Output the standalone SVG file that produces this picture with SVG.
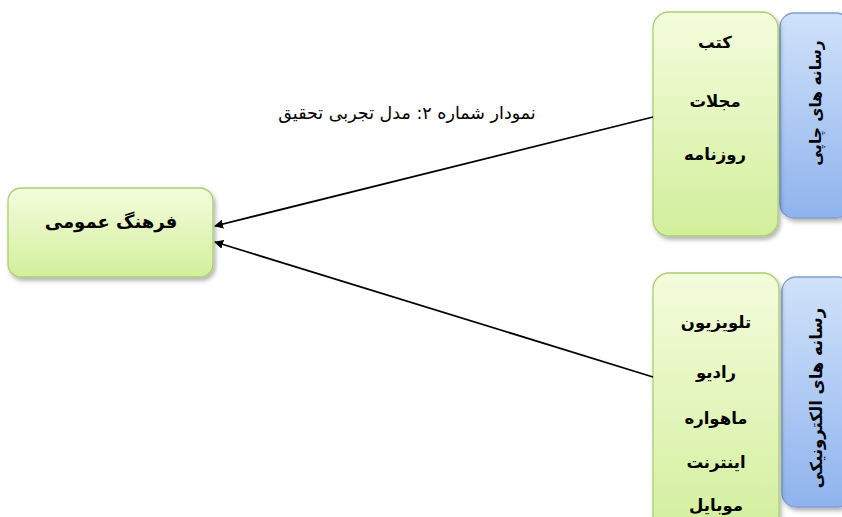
<svg xmlns="http://www.w3.org/2000/svg" width="842" height="517" viewBox="0 0 842 517">
<defs>
<linearGradient id="gGreen" x1="0" y1="0" x2="0" y2="1">
<stop offset="0" stop-color="#f4fcdc"/>
<stop offset="1" stop-color="#d2ef9c"/>
</linearGradient>
<linearGradient id="gBlue" x1="0" y1="0" x2="0" y2="1">
<stop offset="0" stop-color="#d0e2fa"/>
<stop offset="1" stop-color="#8fb3ee"/>
</linearGradient>
<filter id="sh" x="-20%" y="-20%" width="140%" height="140%">
<feDropShadow dx="2" dy="3" stdDeviation="2" flood-color="#000" flood-opacity="0.3"/>
</filter>
<marker id="arr" viewBox="0 0 10 10" refX="9" refY="5" markerWidth="9" markerHeight="9" markerUnits="userSpaceOnUse" orient="auto">
<path d="M0,0 L10,5 L0,10 Z" fill="#000"/>
</marker>
</defs>
<style>
.green{fill:url(#gGreen);stroke:#a9cf72;stroke-width:1.3;filter:url(#sh)}
.blue{fill:url(#gBlue);stroke:#7f9fd2;stroke-width:1.3;filter:url(#sh)}
.t{font-family:"DejaVu Sans",sans-serif;font-weight:bold;font-size:16.5px;fill:#000;text-anchor:middle}
.v{font-family:"DejaVu Sans",sans-serif;font-weight:bold;fill:#000;text-anchor:middle}
.title{font-family:"DejaVu Sans",sans-serif;font-size:17.5px;fill:#000;text-anchor:middle}
.link{stroke:#000;stroke-width:1.8;fill:none;marker-end:url(#arr)}
</style>
<text class="title" x="407" y="119" direction="rtl">نمودار شماره ۲: مدل تجربی تحقیق</text>
<g id="node-culture">
<rect class="green" x="8" y="188" width="205" height="89" rx="13"/>
<text class="t" x="111" y="228" direction="rtl" style="font-size:18px">فرهنگ عمومی</text>
</g>
<g id="node-print-label">
<rect class="blue" x="780" y="13" width="70" height="205" rx="14"/>
<text class="v" transform="translate(821,103) rotate(-90)" direction="rtl" style="font-size:15.5px">رسانه های چاپی</text>
</g>
<g id="node-print">
<rect class="green" x="653" y="12" width="125" height="224" rx="16"/>
<text class="t" x="715" y="48" direction="rtl">کتب</text>
<text class="t" x="715" y="107" direction="rtl">مجلات</text>
<text class="t" x="715" y="160" direction="rtl">روزنامه</text>
</g>
<g id="node-electronic-label">
<rect class="blue" x="782" y="277" width="70" height="230" rx="14"/>
<text class="v" transform="translate(822,398) rotate(-90)" direction="rtl" style="font-size:16.5px">رسانه های الکترونیکی</text>
</g>
<g id="node-electronic">
<rect class="green" x="653" y="273" width="126" height="270" rx="16"/>
<text class="t" x="716" y="328" direction="rtl">تلویزیون</text>
<text class="t" x="716" y="378" direction="rtl">رادیو</text>
<text class="t" x="716" y="424" direction="rtl">ماهواره</text>
<text class="t" x="716" y="468" direction="rtl">اینترنت</text>
<text class="t" x="716" y="511" direction="rtl">موبایل</text>
</g>
<g id="connectors">
<line class="link" x1="653" y1="117" x2="215" y2="226"/>
<line class="link" x1="653" y1="377" x2="215" y2="242"/>
</g>
</svg>
